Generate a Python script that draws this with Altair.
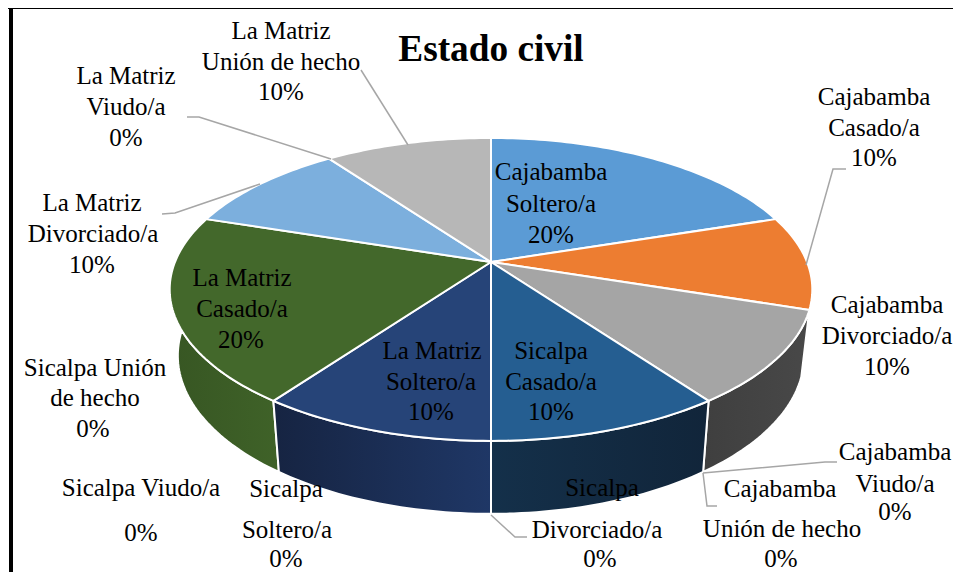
import math
import altair as alt
import pandas as pd

# ---- values ----
categories = [
    "Cajabamba Soltero/a", "Cajabamba Casado/a", "Cajabamba Divorciado/a",
    "Cajabamba Viudo/a", "Cajabamba Unión de hecho",
    "Sicalpa Soltero/a", "Sicalpa Casado/a", "Sicalpa Divorciado/a",
    "Sicalpa Viudo/a", "Sicalpa Unión de hecho",
    "La Matriz Soltero/a", "La Matriz Casado/a", "La Matriz Divorciado/a",
    "La Matriz Viudo/a", "La Matriz Unión de hecho",
]
shares = [20, 10, 10, 0, 0, 0, 10, 0, 0, 0, 10, 20, 10, 0, 10]
label_lines = [
    ["Cajabamba", "Soltero/a", "20%"], ["Cajabamba", "Casado/a", "10%"],
    ["Cajabamba", "Divorciado/a", "10%"], ["Cajabamba", "Viudo/a", "0%"],
    ["Cajabamba", "Unión de hecho", "0%"], ["Sicalpa", "Soltero/a", "0%"],
    ["Sicalpa", "Casado/a", "10%"], ["Sicalpa", "Divorciado/a", "0%"],
    ["Sicalpa Viudo/a", "0%"], ["Sicalpa Unión", "de hecho", "0%"],
    ["La Matriz", "Soltero/a", "10%"], ["La Matriz", "Casado/a", "20%"],
    ["La Matriz", "Divorciado/a", "10%"], ["La Matriz", "Viudo/a", "0%"],
    ["La Matriz", "Unión de hecho", "10%"],
]
title_text = "Estado civil"

# ---- layout and styles ----
top_colors = ["#5B9BD5", "#ED7D31", "#A5A5A5", "#000000", "#000000", "#000000", "#255E91", "#000000",
              "#000000", "#000000", "#264478", "#43682B", "#7CAFDD", "#000000", "#B7B7B7"]
wall_colors = {
    2: ("#3F3F3F", "#484848"),
    6: ("#14304A", "#11253A"),
    10: ("#162442", "#1F3766"),
    11: ("#375623", "#3F6228"),
}
label_xy = [
    [(551, 172), (551, 204), (551, 235)], [(874, 97), (874, 128), (874, 158)],
    [(887, 305), (887, 336), (887, 367)], [(895, 452), (895, 484), (895, 512)],
    [(780, 489), (782, 529), (781, 559)], [(286, 489), (287, 530), (286, 559)],
    [(551, 351), (551, 382), (551, 412)], [(602, 488), (597, 530), (600, 559)],
    [(141, 488), (141, 533)], [(95, 368), (95, 398), (93, 429)],
    [(432, 351), (431, 382), (431, 412)], [(242, 278), (242, 309), (241, 340)],
    [(92, 203), (93, 234), (92, 265)], [(126, 76), (126, 107), (126, 138)],
    [(281, 31), (281, 62), (281, 92)],
]
leaders = [
    [(361, 70), (408, 145)],
    [(187, 117), (199, 117), (331, 159)],
    [(162, 214), (175, 213), (260, 184)],
    [(846, 169), (833, 169), (806, 265)],
    [(837, 462), (825, 462), (703, 473)],
    [(717, 506), (707, 506), (703, 473)],
    [(527, 537), (515, 537), (491, 515)],
]
CX, CY, AX, BY, PERSP = 491, 262, 316, 146.5, -0.181
AX2, CY2, BY2 = 308, 327, 153
FONT = "Liberation Serif"
RIGHT, BOTTOM = 953, 572

X = alt.X("x:Q", scale=alt.Scale(domain=[8, RIGHT], nice=False, zero=False), axis=None)
Y = alt.Y("y:Q", scale=alt.Scale(domain=[BOTTOM, 8], nice=False, zero=False), axis=None)


def top_pt(theta):
    u, v = math.sin(theta), -math.cos(theta)
    d = 1 + PERSP * v
    return CX + AX * u / d, CY + BY * v / d


def bottom_pt(theta):
    u, v = math.sin(theta), -math.cos(theta)
    d = 1 + PERSP * v
    return CX + AX2 * u / d, CY2 + BY2 * v / d


def arc(fn, a, b):
    n = max(2, int(abs(b - a) / 0.02))
    return [fn(a + (b - a) * i / n) for i in range(n + 1)]


def polygon(points, fill, stroke="#FFFFFF", width=2.0):
    df = pd.DataFrame(points, columns=["x", "y"])
    df["i"] = range(len(df))
    return alt.Chart(df).mark_line(
        fill=fill, stroke=stroke, strokeWidth=width, strokeJoin="round", clip=False
    ).encode(x=X, y=Y, order="i:Q")


# slice angles follow from the shares
total = sum(shares)
angles, acc = [], 0
for s in shares:
    a = 2 * math.pi * acc / total
    acc += s
    angles.append((a, 2 * math.pi * acc / total))

layers = []

# page frame
frame = pd.DataFrame([
    {"x": 8, "x2": RIGHT, "y": 8, "y2": 9, "c": "#000000"},
    {"x": 9, "x2": 13, "y": 8, "y2": BOTTOM, "c": "#000000"},
])
layers.append(alt.Chart(frame).mark_rect().encode(
    x=X, x2="x2:Q", y=Y, y2="y2:Q", color=alt.Color("c:N", scale=None)))

# side walls, back to front
for idx in [2, 11, 6, 10]:
    a, b = angles[idx]
    pts = arc(top_pt, a, b) + arc(bottom_pt, b, a)
    pts.append(pts[0])
    c0, c1 = wall_colors[idx]
    grad = alt.Gradient(gradient="linear", x1=0, x2=1, y1=0, y2=0,
                        stops=[alt.GradientStop(color=c0, offset=0),
                               alt.GradientStop(color=c1, offset=1)])
    layers.append(polygon(pts, grad))

# top faces
for idx, s in enumerate(shares):
    if s == 0:
        continue
    a, b = angles[idx]
    pts = [(CX, CY)] + arc(top_pt, a, b) + [(CX, CY)]
    layers.append(polygon(pts, top_colors[idx]))

# leader lines
for k, pts in enumerate(leaders):
    df = pd.DataFrame(pts, columns=["x", "y"])
    df["i"] = range(len(df))
    layers.append(alt.Chart(df).mark_line(color="#A6A6A6", strokeWidth=1.5).encode(
        x=X, y=Y, order="i:Q"))

# data labels
rows = []
for lines, xy in zip(label_lines, label_xy):
    for t, (x, y) in zip(lines, xy):
        rows.append({"t": t, "x": x, "y": y})
layers.append(alt.Chart(pd.DataFrame(rows)).mark_text(
    font=FONT, fontSize=25, color="#000000", align="center", baseline="middle"
).encode(x=X, y=Y, text="t:N"))

# title
layers.append(alt.Chart(pd.DataFrame([{"t": title_text, "x": 491, "y": 50}])).mark_text(
    font=FONT, fontSize=37.3, fontWeight="bold", color="#000000", align="center", baseline="middle"
).encode(x=X, y=Y, text="t:N"))

chart = alt.layer(*layers).properties(
    width=RIGHT - 8, height=BOTTOM - 8, padding=0,
    autosize=alt.AutoSizeParams(type="none"), background="#FFFFFF",
).configure_view(stroke=None)

chart.save("out.html", embed_options={"renderer": "svg", "actions": False})
